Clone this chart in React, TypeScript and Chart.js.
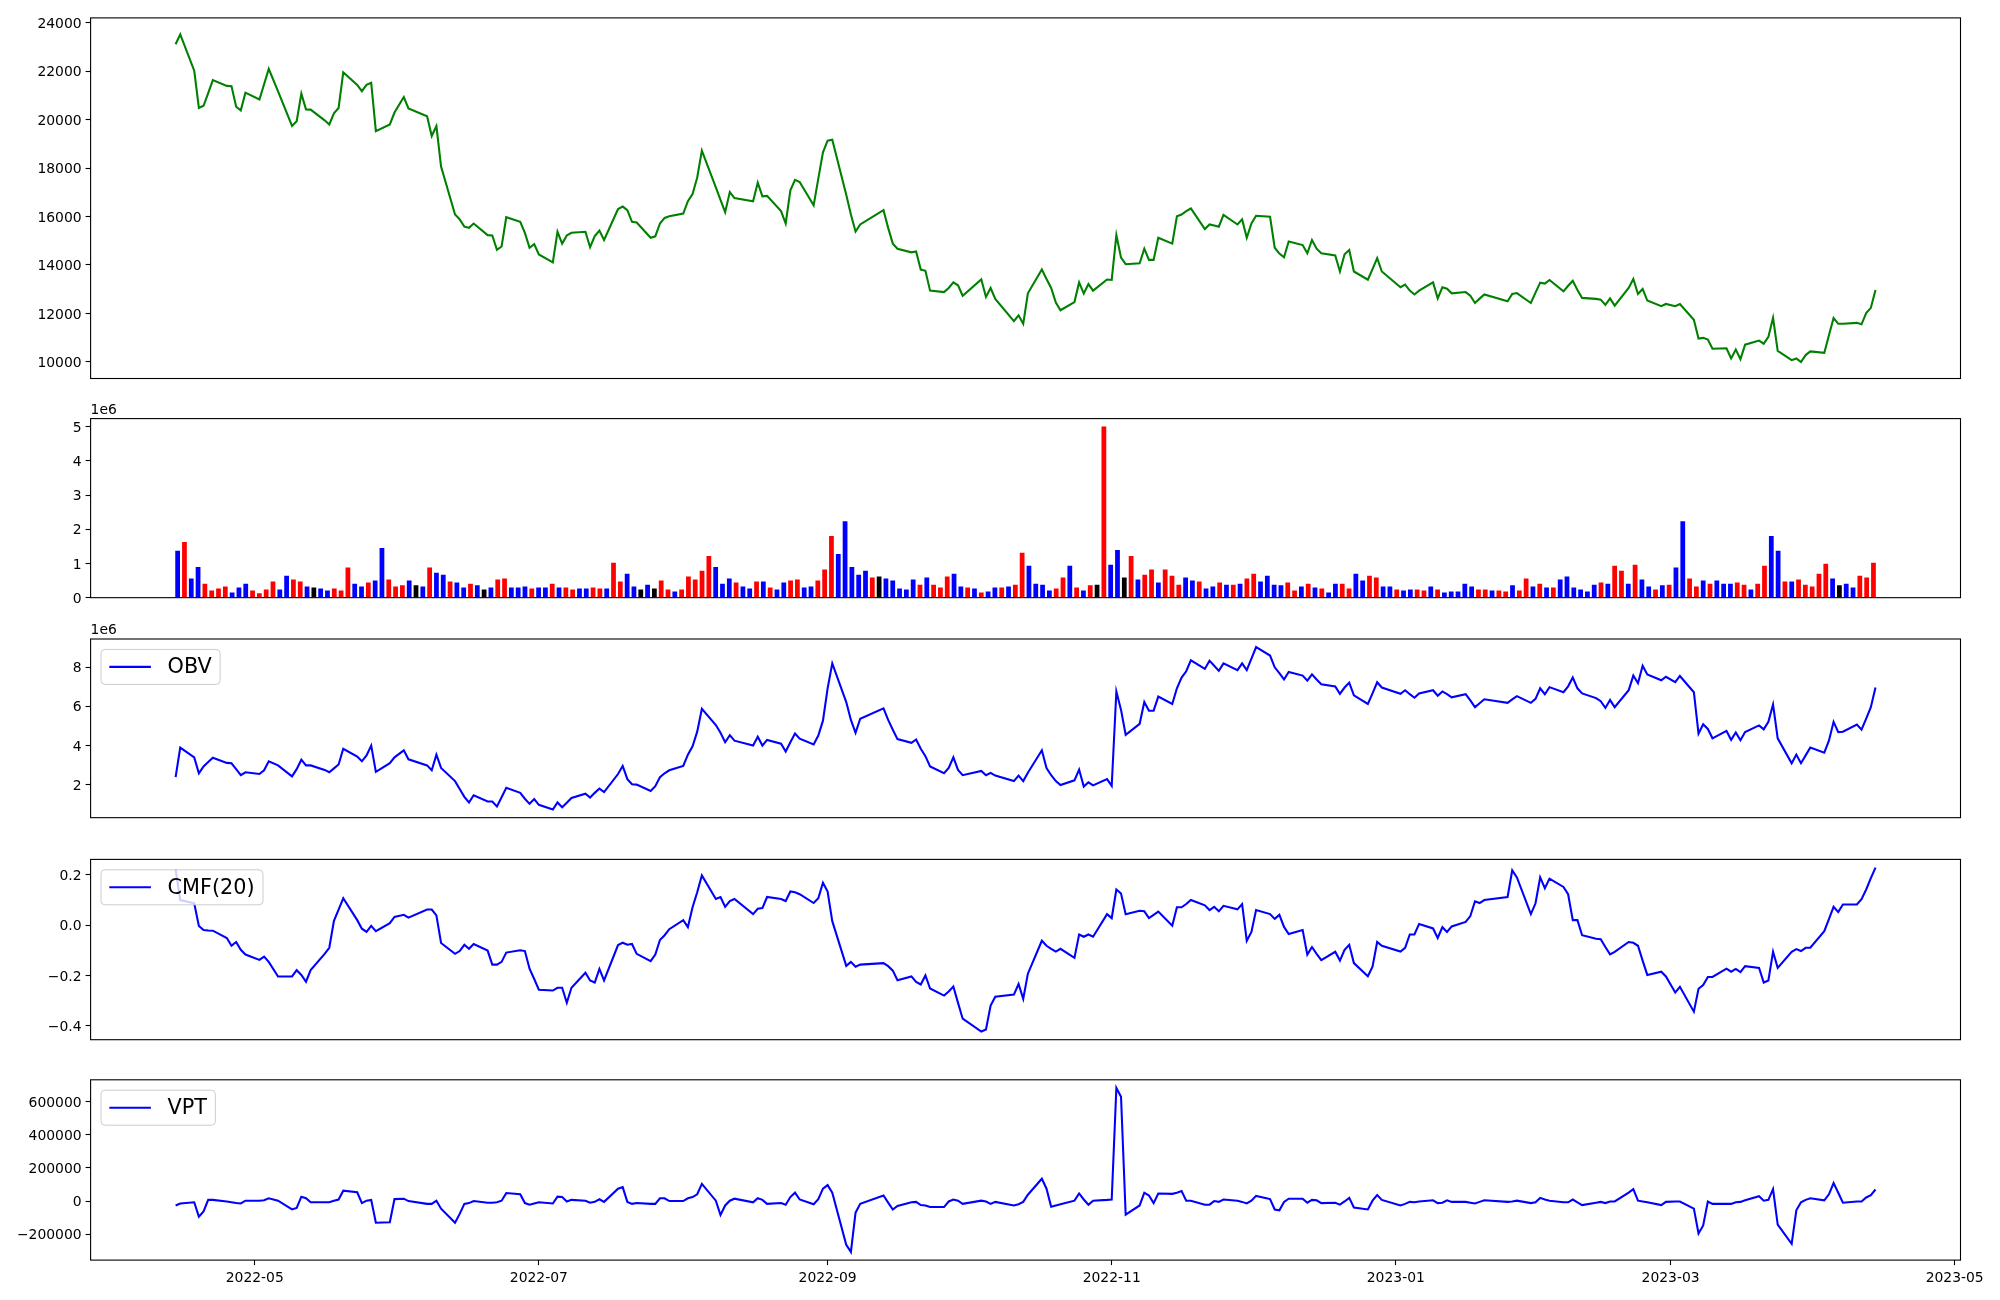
import React, { useEffect, useRef } from 'react';
import { Chart, registerables } from 'chart.js';
Chart.register(...registerables);

// ---------------- DATA ----------------
// KRX trading calendar (weekdays minus market holidays)
const firstDay = '2022-04-14';
const lastDay = '2023-04-14';
const holidays = ['2022-05-05', '2022-06-01', '2022-06-06', '2022-08-15', '2022-09-09', '2022-09-12',
  '2022-10-03', '2022-10-10', '2022-12-30', '2023-01-23', '2023-01-24', '2023-03-01'];

const xTickDates = ['2022-05-01', '2022-07-01', '2022-09-01', '2022-11-01', '2023-01-01', '2023-03-01', '2023-05-01'];
const xTickLabels = ['2022-05', '2022-07', '2022-09', '2022-11', '2023-01', '2023-03', '2023-05'];

const price = [
  23110, 23520, 22020, 20480, 20570, 21090, 21630, 21390, 21380, 20530, 20380, 21110,
  20830, 21460, 22090, 21160, 19740, 19930, 21070, 20420, 20410, 19970, 19800, 20260, 20480, 21950, 21430, 21170, 21430, 21520, 19520, 19800, 20290,
  20930, 20460, 20140, 19320, 19730, 18060, 16080, 15880, 15580, 15530, 15710, 15230, 15220, 14620, 14760, 15970, 15780, 15320, 14710, 14860,
  14430, 14110, 15370, 14880, 15220, 15330, 15370, 14730, 15190, 15420, 15030, 16310, 16410, 16260, 15780, 15750, 15120, 15180, 15710, 15940, 16010,
  16120, 16630, 16930, 17610, 18720, 17200, 16690, 16180, 17010, 16760, 16630, 17400, 16830, 16850, 16220, 15710, 17080, 17510, 17420, 16460, 17560, 18650,
  19130, 19170, 16900, 16080, 15380, 15670, 16260, 15530, 14880, 14670, 14520, 14560, 13810, 13760, 12940, 12880, 13050, 13280, 13160, 12730,
  13400, 12680, 13050, 12600, 11680, 11920, 11570, 12830, 13810, 13420, 13050, 12450, 12130, 12470, 13280, 12820, 13210, 12940, 13400,
  13380, 15230, 14300, 14030, 14070, 14670, 14210, 14210, 15120, 14880, 16010, 16080, 16220, 16330, 15480, 15670, 15630, 15580, 16070, 15670, 15880, 15120,
  15710, 16030, 15990, 14710, 14470, 14320, 14970, 14820, 14480, 15030, 14670, 14480, 14390, 13730, 14440, 14620, 13730, 13390, 13830, 14280, 13730,
  13080, 13190, 12940, 12780, 12940, 13280, 12620, 13080, 13020, 12830, 12880, 12730, 12430, 12610, 12780, 12500, 12800, 12840, 12430, 12860,
  13270, 13230, 13380, 12910, 13140, 13350, 12970, 12640, 12600, 12570, 12350, 12620, 12320, 13050, 13420, 12800, 13010, 12530, 12300, 12390,
  12300, 12390, 11740, 10960, 10990, 10920, 10540, 10560, 10140, 10510, 10110, 10710, 10880, 10750, 11030, 11820, 10450, 10070, 10140, 9990, 10280, 10430,
  10370, 11100, 11810, 11570, 11570, 11610, 11550, 12010, 12230, 12970,
];

// volume in millions of shares (axis offset 1e6)
const volumeM = [
  1.36, 1.62, 0.55, 0.89, 0.40, 0.20, 0.26, 0.32, 0.14, 0.29,
  0.40, 0.20, 0.12, 0.23, 0.46, 0.23, 0.63, 0.52, 0.46, 0.32,
  0.29, 0.26, 0.20, 0.26, 0.20, 0.87, 0.40, 0.32, 0.43, 0.49,
  1.44, 0.52, 0.32, 0.35, 0.49, 0.35, 0.32, 0.87, 0.72, 0.66,
  0.46, 0.43, 0.29, 0.40, 0.35, 0.23, 0.29, 0.52, 0.55, 0.29,
  0.29, 0.32, 0.26, 0.29, 0.29, 0.40, 0.29, 0.29, 0.23, 0.26,
  0.26, 0.29, 0.26, 0.26, 1.01, 0.46, 0.69, 0.32, 0.23, 0.37,
  0.26, 0.49, 0.23, 0.17, 0.23, 0.61, 0.52, 0.78, 1.21, 0.89,
  0.40, 0.55, 0.43, 0.32, 0.26, 0.46, 0.46, 0.29, 0.23, 0.43,
  0.49, 0.52, 0.29, 0.32, 0.49, 0.81, 1.79, 1.27, 2.22, 0.89,
  0.66, 0.78, 0.58, 0.61, 0.55, 0.49, 0.26, 0.23, 0.52, 0.37,
  0.58, 0.37, 0.29, 0.61, 0.69, 0.32, 0.29, 0.26, 0.14, 0.17,
  0.29, 0.29, 0.32, 0.37, 1.30, 0.92, 0.40, 0.37, 0.20, 0.26,
  0.58, 0.92, 0.29, 0.20, 0.35, 0.37, 4.99, 0.95, 1.38, 0.58,
  1.21, 0.52, 0.66, 0.81, 0.43, 0.81, 0.63, 0.37, 0.58, 0.49,
  0.46, 0.26, 0.32, 0.43, 0.37, 0.37, 0.40, 0.55, 0.69, 0.46,
  0.63, 0.37, 0.35, 0.43, 0.20, 0.32, 0.40, 0.29, 0.26, 0.14,
  0.40, 0.40, 0.26, 0.69, 0.49, 0.63, 0.58, 0.32, 0.32, 0.23,
  0.20, 0.23, 0.23, 0.20, 0.32, 0.23, 0.14, 0.17, 0.17, 0.40,
  0.32, 0.23, 0.23, 0.20, 0.20, 0.17, 0.35, 0.20, 0.55, 0.32,
  0.40, 0.29, 0.29, 0.52, 0.61, 0.29, 0.23, 0.17, 0.37, 0.43,
  0.40, 0.92, 0.78, 0.40, 0.95, 0.52, 0.32, 0.23, 0.35, 0.37,
  0.87, 2.22, 0.55, 0.32, 0.49, 0.40, 0.49, 0.40, 0.40, 0.43,
  0.37, 0.23, 0.40, 0.92, 1.79, 1.36, 0.46, 0.46, 0.52, 0.37,
  0.32, 0.69, 0.98, 0.55, 0.35, 0.40, 0.29, 0.63, 0.58, 1.01,
];

// bar colour per day: r = red, b = blue, k = black
const volumeColorCodes = (
  'brbbrrrrbb' + 'brrrrbbrrb' + 'kbbrrrbbrb' + 'brrrbkbrbb' + 'rbbrbkbrrb' +
  'bbrbbrbrrb' + 'brrbrrbbkb' + 'krrbrrrrrb' + 'bbrbbrbrbb' + 'rrbbrrrbbb' +
  'bbrkbbbbbr' + 'brrrbbrbrb' + 'brbrrbbbbr' + 'rbrbrkrbbk' + 'rbrrbrrrbb' +
  'rbbrbrbrrb' + 'bbbrrbrbrb' + 'brrbbrrbbr' + 'bbrrbrbbbb' + 'brrbrrbrrb' +
  'rbrbbbbbbr' + 'brrbrbbrbr' + 'bbrrbrbbbr' + 'rbrrbbrbrr' + 'rrrbkbbrrr'
).split('');

// OBV in millions (axis offset 1e6)
const obvM = [
  2.39, 3.90, 3.40, 2.59, 2.94, 3.16, 3.38, 3.12, 3.10, 2.80, 2.49, 2.64,
  2.55, 2.74, 3.20, 2.99, 2.43, 2.80, 3.28, 2.99, 2.99, 2.76, 2.64, 2.84, 3.04, 3.84, 3.44, 3.20, 3.50, 4.00, 2.66, 3.10, 3.40,
  3.76, 3.30, 2.99, 2.74, 3.54, 2.86, 2.19, 1.79, 1.39, 1.10, 1.47, 1.15, 1.15, 0.90, 1.37, 1.85, 1.59, 1.29, 1.03, 1.27,
  0.98, 0.74, 1.10, 0.86, 1.09, 1.33, 1.55, 1.35, 1.59, 1.81, 1.63, 2.55, 2.96, 2.29, 2.03, 2.01, 1.69, 1.93, 2.39, 2.59, 2.74,
  2.96, 3.54, 3.96, 4.71, 5.88, 5.05, 4.65, 4.17, 4.53, 4.25, 4.00, 4.45, 4.00, 4.29, 4.10, 3.70, 4.17, 4.61, 4.35, 4.06, 4.51, 5.27,
  6.92, 8.19, 6.22, 5.31, 4.65, 5.37, 5.90, 5.31, 4.81, 4.33, 4.14, 4.31, 3.84, 3.46, 2.94, 2.59, 2.86, 3.40, 2.76, 2.49,
  2.71, 2.49, 2.61, 2.47, 2.19, 2.47, 2.19, 2.62, 3.76, 2.86, 2.49, 2.19, 1.99, 2.23, 2.78, 1.91, 2.13, 1.97, 2.29,
  1.95, 6.76, 5.82, 4.55, 5.11, 6.22, 5.78, 5.78, 6.50, 6.12, 6.92, 7.47, 7.79, 8.35, 7.91, 8.33, 8.07, 7.81, 8.19, 7.85, 8.19, 7.85,
  8.43, 9.02, 8.59, 7.99, 7.69, 7.37, 7.75, 7.57, 7.31, 7.63, 7.37, 7.13, 7.02, 6.64, 6.96, 7.21, 6.56, 6.12, 6.66, 7.23, 6.96,
  6.64, 6.82, 6.62, 6.44, 6.66, 6.82, 6.54, 6.76, 6.62, 6.46, 6.62, 6.30, 5.96, 6.16, 6.36, 6.18, 6.36, 6.52, 6.18, 6.38,
  6.92, 6.62, 6.98, 6.72, 7.02, 7.47, 6.92, 6.66, 6.42, 6.26, 5.92, 6.32, 5.96, 6.82, 7.57, 7.18, 8.07, 7.63, 7.33, 7.51,
  7.23, 7.55, 6.72, 4.61, 5.09, 4.85, 4.37, 4.75, 4.29, 4.67, 4.27, 4.69, 5.03, 4.83, 5.21, 6.10, 4.37, 3.10, 3.54, 3.10, 3.50, 3.90,
  3.64, 4.25, 5.21, 4.69, 4.71, 5.07, 4.81, 5.37, 5.96, 6.96,
];

const cmf20 = [
  0.221, 0.100, 0.087, -0.003, -0.019, -0.021, -0.022, -0.051, -0.082, -0.067, -0.098, -0.117,
  -0.138, -0.125, -0.146, -0.204, -0.204, -0.179, -0.198, -0.225, -0.179, -0.114, -0.090, 0.017, 0.062, 0.107, 0.020, -0.014, -0.027, -0.003, -0.024, 0.008, 0.033,
  0.041, 0.030, 0.062, 0.062, 0.039, -0.071, -0.114, -0.103, -0.078, -0.094, -0.075, -0.101, -0.157, -0.157, -0.146, -0.109, -0.100, -0.103, -0.173, -0.214,
  -0.257, -0.260, -0.249, -0.249, -0.309, -0.249, -0.189, -0.220, -0.228, -0.174, -0.220, -0.079, -0.070, -0.078, -0.075, -0.114, -0.143, -0.117, -0.059, -0.040, -0.016,
  0.020, -0.008, 0.071, 0.131, 0.198, 0.104, 0.112, 0.073, 0.096, 0.104, 0.044, 0.065, 0.068, 0.112, 0.104, 0.096, 0.134, 0.131, 0.123, 0.088, 0.107, 0.169,
  0.134, 0.016, -0.162, -0.146, -0.165, -0.157, -0.151, -0.163, -0.181, -0.219, -0.204, -0.226, -0.236, -0.200, -0.252, -0.280, -0.264, -0.244, -0.309, -0.372,
  -0.423, -0.415, -0.320, -0.285, -0.276, -0.234, -0.293, -0.193, -0.062, -0.082, -0.094, -0.105, -0.094, -0.130, -0.037, -0.046, -0.037, -0.046, 0.044,
  0.028, 0.142, 0.126, 0.043, 0.057, 0.055, 0.028, 0.041, 0.054, -0.002, 0.071, 0.071, 0.084, 0.100, 0.079, 0.060, 0.073, 0.055, 0.077, 0.063, 0.084, -0.062,
  -0.027, 0.060, 0.044, 0.025, 0.041, -0.007, -0.035, -0.019, -0.117, -0.087, -0.114, -0.139, -0.106, -0.141, -0.098, -0.078, -0.151, -0.203, -0.165, -0.067, -0.082,
  -0.105, -0.090, -0.037, -0.037, 0.005, -0.013, -0.051, -0.008, -0.027, -0.005, 0.013, 0.036, 0.095, 0.088, 0.100, 0.112, 0.218, 0.190, 0.044, 0.087,
  0.190, 0.147, 0.185, 0.152, 0.123, 0.020, 0.020, -0.040, -0.054, -0.056, -0.087, -0.116, -0.106, -0.067, -0.070, -0.082, -0.141, -0.198, -0.185, -0.204,
  -0.268, -0.245, -0.344, -0.253, -0.238, -0.206, -0.206, -0.173, -0.185, -0.174, -0.187, -0.163, -0.170, -0.228, -0.220, -0.106, -0.170, -0.106, -0.095, -0.103, -0.090, -0.090,
  -0.024, 0.024, 0.073, 0.052, 0.082, 0.082, 0.103, 0.142, 0.187, 0.229,
];

const vpt = [
  -26000, -14000, -6700, -93500, -62200, 7700, 7700, -1900, -6700, -11600, -14000, 2900,
  2900, 5300, 17400, 2900, -50100, -40500, 27000, 17400, -6700, -6700, -6700, 2900, 10100, 63100, 53500, -11600, 2900, 7700, -129700, -127300, 12500,
  14900, 500, -16400, -16400, 2900, -45300, -129700, -76700, -16400, -11600, 500, -9200, -9200, -6700, 2900, 48700, 41400, -11600, -21200, -14000,
  -6700, -14000, 27000, 24600, -1900, 7700, 2900, -9200, -4300, 11300, -4300, 75200, 84800, -4300, -16400, -11600, -16400, -16400, 17400, 17400, 500,
  500, 17400, 24600, 41400, 104100, 2900, -83900, -26000, 2900, 14900, -6700, 17400, 7700, -16400, -11600, -21200, 24600, 51100, 10100, -18800, 12500, 75200,
  96900, 51100, -262700, -306000, -69400, -16400, 34200, -9200, -50100, -28400, -6700, -4300, -23600, -26000, -35700, -35700, -1900, 10100, 2900, -16400,
  2900, -1900, -16400, -4300, -26000, -18800, -4300, 39000, 135400, 75200, -33300, -26000, -18800, 2900, 46300, 10100, -21200, 2900, 7700,
  10100, 682400, 629400, -81500, -26000, 51100, 34200, -11600, 46300, 43900, 51100, 60700, 2900, 2900, -21200, -21200, 500, -4300, 10100, 2900, -4300, -14000,
  2900, 31800, 12500, -50100, -55000, -4300, 14900, 14900, -9200, 7700, 5300, -11600, -9200, -21200, -1900, 19800, -38100, -50100, 2900, 36600, 7700,
  -26000, -16400, -4300, -6700, -1900, 5300, -11600, -9200, 5300, -4300, -4300, -9200, -14000, -4300, 5300, -4300, -1900, 2900, -11600, -6700,
  19800, 10100, 2900, -6700, -6700, 10100, -6700, -23600, -9200, -4300, -11600, -1900, -1900, 51100, 72800, 2900, -1900, -6700, -23600, -4300,
  -1900, -1900, -45300, -194800, -146600, -1900, -16400, -16400, -16400, -6700, -4300, 5300, 29400, 2900, 7700, 72800, -141700, -257400, -55000, -6700, 7700, 17400,
  5300, 41400, 108900, 51100, -9200, -1900, -1900, 22200, 36600, 70400,
];

const priceTicks = [10000, 12000, 14000, 16000, 18000, 20000, 22000, 24000];
const volumeTicks = [0, 1, 2, 3, 4, 5];
const obvTicks = [2, 4, 6, 8];
const cmfTicks = [-0.4, -0.2, 0.0, 0.2];
const vptTicks = [-200000, 0, 200000, 400000, 600000];

// ---------------- LAYOUT / STYLE ----------------
const W = 2000;
const PLOT_LEFT = 90.6;
const PLOT_RIGHT = 1960.5;
const FONT = 'DejaVu Sans';
const TICK_SIZE = 13.9;
const LEGEND_SIZE = 20.8;
const MINUS = '\u2212';

const PANELS = [
  { key: 'price', top: 0, height: 400, plotTop: 17.9, plotBottom: 378.5 },
  { key: 'volume', top: 400, height: 210, plotTop: 418.6, plotBottom: 598.9 },
  { key: 'obv', top: 610, height: 220, plotTop: 639.0, plotBottom: 819.3 },
  { key: 'cmf', top: 830, height: 225, plotTop: 859.4, plotBottom: 1039.7 },
  { key: 'vpt', top: 1060, height: 240, plotTop: 1079.8, plotBottom: 1260.1 },
];

const DAY = 86400000;
const ORIGIN = Date.UTC(2022, 4, 1);
function dayNum(s: string) {
  const [y, m, d] = s.split('-').map(Number);
  return Math.round((Date.UTC(y, m - 1, d) - ORIGIN) / DAY);
}
function tradingDays(): number[] {
  const hol = new Set(holidays);
  const out: number[] = [];
  for (let t = dayNum(firstDay); t <= dayNum(lastDay); t++) {
    const dt = new Date(ORIGIN + t * DAY);
    const wd = dt.getUTCDay();
    const iso = dt.toISOString().slice(0, 10);
    if (wd === 0 || wd === 6 || hol.has(iso)) continue;
    out.push(t);
  }
  return out;
}
function padRange(vals: number[], lo0?: number) {
  const lo = Math.min(...vals), hi = Math.max(...vals);
  const p = (hi - lo) * 0.05;
  return [lo0 !== undefined ? lo0 : lo - p, hi + p];
}
const fmtMinus = (s: string) => s.replace('-', MINUS);

function yScale(min: number, max: number, ticks: number[], fmt: (v: number) => string) {
  return {
    type: 'linear', min, max,
    afterBuildTicks: (s: any) => { s.ticks = ticks.map((v) => ({ value: v })); },
    afterFit: (s: any) => { s.width = PLOT_LEFT; },
    ticks: { callback: (v: any) => fmt(Number(v)), color: '#000', font: { family: FONT, size: TICK_SIZE }, padding: 4, autoSkip: false, labelOffset: 1.5 },
    grid: { display: true, drawOnChartArea: false, drawTicks: true, tickLength: 5, tickColor: '#000', tickWidth: 1.1 },
    border: { display: false },
  };
}

function framePlugin(legendLabel: string | null, offsetText: string | null) {
  return {
    id: 'frame',
    afterDatasetsDraw(chart: any) {
      const { ctx, chartArea: a } = chart;
      ctx.save();
      if (legendLabel) {
        const F = LEGEND_SIZE;
        ctx.font = `${F}px "${FONT}"`;
        const tw = ctx.measureText(legendLabel).width;
        const x0 = a.left + 0.5 * F;
        const y0 = a.top + 0.5 * F;
        const w = 0.4 * F + 2 * F + 0.8 * F + tw + 0.4 * F;
        const h = 35;
        ctx.beginPath();
        if (ctx.roundRect) ctx.roundRect(x0, y0, w, h, 4); else ctx.rect(x0, y0, w, h);
        ctx.fillStyle = 'rgba(255,255,255,0.8)';
        ctx.fill();
        ctx.strokeStyle = '#cccccc';
        ctx.lineWidth = 1;
        ctx.stroke();
        const cy = y0 + h / 2;
        ctx.beginPath();
        ctx.moveTo(x0 + 0.4 * F, cy);
        ctx.lineTo(x0 + 2.4 * F, cy);
        ctx.strokeStyle = '#0000ff';
        ctx.lineWidth = 2.08;
        ctx.stroke();
        ctx.fillStyle = '#000';
        ctx.textAlign = 'left';
        ctx.textBaseline = 'middle';
        ctx.fillText(legendLabel, x0 + 3.2 * F, cy + 1);
      }
      if (offsetText) {
        ctx.font = `${TICK_SIZE}px "${FONT}"`;
        ctx.fillStyle = '#000';
        ctx.textAlign = 'left';
        ctx.textBaseline = 'bottom';
        ctx.fillText(offsetText, a.left, a.top - 1.5);
      }
      ctx.strokeStyle = '#000';
      ctx.lineWidth = 1.1;
      ctx.strokeRect(a.left, a.top, a.right - a.left, a.bottom - a.top);
      ctx.restore();
    },
  };
}

export default function App() {
  const refs = useRef<(HTMLCanvasElement | null)[]>([]);

  useEffect(() => {
    const days = tradingDays();
    const [xMin, xMax] = padRange(days);
    const idx = volumeM.map((_, i) => i);
    const bxMin = -0.3 - (idx.length - 1 + 0.6) * 0.05;
    const bxMax = idx.length - 1 + 0.3 + (idx.length - 1 + 0.6) * 0.05;
    const colorMap: Record<string, string> = { r: '#ff0000', b: '#0000ff', k: '#000000' };
    const xTickVals = xTickDates.map(dayNum);

    const hiddenX = (min: number, max: number) => ({ type: 'linear', display: false, min, max });
    const base = (p: any, bottomAxis: boolean) => ({
      animation: false,
      responsive: false,
      events: [],
      layout: {
        padding: {
          left: 0,
          right: W - PLOT_RIGHT,
          top: p.plotTop - p.top,
          bottom: bottomAxis ? 0 : p.top + p.height - p.plotBottom,
        },
      },
      plugins: { legend: { display: false }, tooltip: { enabled: false } },
    });
    const lineDs = (vals: number[], color: string) => ({
      type: 'line',
      data: days.map((d, i) => ({ x: d, y: vals[i] })),
      borderColor: color,
      borderWidth: 2.08,
      pointRadius: 0,
      tension: 0,
      fill: false,
    });

    const configs: any[] = [];
    // price
    {
      const [lo, hi] = padRange(price);
      configs.push({
        type: 'line',
        data: { datasets: [lineDs(price, '#008000')] },
        options: { ...base(PANELS[0], false), scales: { x: hiddenX(xMin, xMax), y: yScale(lo, hi, priceTicks, (v) => String(v)) } },
        plugins: [framePlugin(null, null)],
      });
    }
    // volume
    {
      const [, hi] = padRange(volumeM, 0);
      configs.push({
        type: 'bar',
        data: {
          datasets: [{
            data: idx.map((i) => ({ x: i, y: volumeM[i] })),
            backgroundColor: volumeColorCodes.map((c) => colorMap[c]),
            barThickness: 4.1,
            borderWidth: 0,
          }],
        },
        options: {
          ...base(PANELS[1], false),
          scales: { x: { ...hiddenX(bxMin, bxMax), offset: false }, y: yScale(0, hi, volumeTicks, (v) => String(v)) },
        },
        plugins: [framePlugin(null, '1e6')],
      });
    }
    // OBV
    {
      const [lo, hi] = padRange(obvM);
      configs.push({
        type: 'line',
        data: { datasets: [lineDs(obvM, '#0000ff')] },
        options: { ...base(PANELS[2], false), scales: { x: hiddenX(xMin, xMax), y: yScale(lo, hi, obvTicks, (v) => String(v)) } },
        plugins: [framePlugin('OBV', '1e6')],
      });
    }
    // CMF
    {
      const [lo, hi] = padRange(cmf20);
      configs.push({
        type: 'line',
        data: { datasets: [lineDs(cmf20, '#0000ff')] },
        options: { ...base(PANELS[3], false), scales: { x: hiddenX(xMin, xMax), y: yScale(lo, hi, cmfTicks, (v) => fmtMinus(v.toFixed(1))) } },
        plugins: [framePlugin('CMF(20)', null)],
      });
    }
    // VPT
    {
      const [lo, hi] = padRange(vpt);
      const p = PANELS[4];
      configs.push({
        type: 'line',
        data: { datasets: [lineDs(vpt, '#0000ff')] },
        options: {
          ...base(p, true),
          scales: {
            x: {
              type: 'linear', min: xMin, max: xMax,
              afterBuildTicks: (s: any) => { s.ticks = xTickVals.map((v) => ({ value: v })); },
              afterFit: (s: any) => { s.height = p.top + p.height - p.plotBottom; },
              ticks: {
                callback: (v: any) => xTickLabels[xTickVals.indexOf(Number(v))] ?? '',
                color: '#000', font: { family: FONT, size: TICK_SIZE }, padding: 5, autoSkip: false, maxRotation: 0, minRotation: 0,
              },
              grid: { display: true, drawOnChartArea: false, drawTicks: true, tickLength: 5, tickColor: '#000', tickWidth: 1.1 },
              border: { display: false },
            },
            y: yScale(lo, hi, vptTicks, (v) => fmtMinus(String(v))),
          },
        },
        plugins: [framePlugin('VPT', null)],
      });
    }

    const charts = configs.map((cfg, k) => new Chart(refs.current[k] as HTMLCanvasElement, cfg));
    return () => charts.forEach((c) => c.destroy());
  }, []);

  return (
    <div style={{ position: 'absolute', left: 0, top: 0, width: W, height: 1300, background: '#ffffff' }}>
      {PANELS.map((p, k) => (
        <canvas
          key={p.key}
          ref={(el) => { refs.current[k] = el; }}
          width={W}
          height={p.height}
          style={{ position: 'absolute', left: 0, top: p.top, width: W, height: p.height }}
        />
      ))}
    </div>
  );
}
